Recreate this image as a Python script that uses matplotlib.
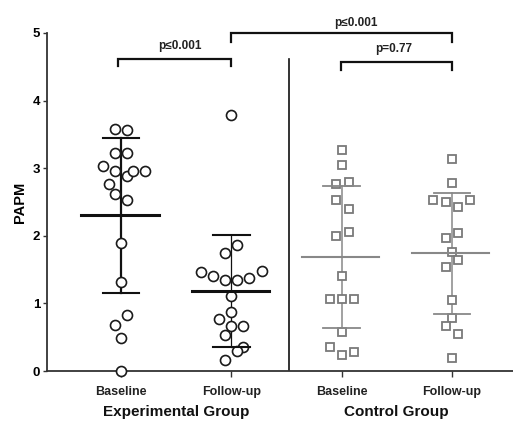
import matplotlib
matplotlib.use("Agg")
import matplotlib.pyplot as plt
import numpy as np

plt.rcParams['font.family'] = ['Liberation Sans', 'DejaVu Sans']

# ---- data ----
group_labels = ["Experimental Group", "Control Group"]
tick_labels = ["Baseline", "Follow-up", "Baseline", "Follow-up"]

exp_base = [3.58, 3.56, 3.23, 3.23, 3.03, 2.96, 2.88, 2.96, 2.96, 2.77, 2.62, 2.53,
            1.90, 1.31, 0.83, 0.68, 0.49, 0.00]
exp_base_jit = [-6, 6, -6, 6, -18, -6, 6, 12, 24, -12, -6, 6, 0, 0, 6, -6, 0, 0]

exp_follow = [3.79, 1.86, 1.75, 1.47, 1.40, 1.35, 1.35, 1.38, 1.48, 1.11, 0.87,
              0.77, 0.66, 0.67, 0.53, 0.36, 0.29, 0.16]
exp_follow_jit = [0, 6, -6, -30, -18, -6, 6, 18, 31, 0, 0, -12, 0, 12, -6, 12, 6, -6]

ctl_base = [3.27, 3.05, 2.77, 2.80, 2.53, 2.40, 2.00, 2.06, 1.40, 1.07, 1.07, 1.07,
            0.57, 0.35, 0.24, 0.28]
ctl_base_jit = [0, 0, -6, 7, -6, 7, -6, 7, 0, -12, 0, 12, 0, -12, 0, 12]

ctl_follow = [3.14, 2.78, 2.53, 2.50, 2.43, 2.53, 1.97, 2.04, 1.76, 1.64, 1.54,
              1.05, 0.78, 0.66, 0.54, 0.19]
ctl_follow_jit = [0, 0, -19, -6, 6, 18, -6, 6, 0, 6, -6, 0, 0, -6, 6, 0]

means = [2.31, 1.19, 1.68, 1.75]
sd_upper = [3.45, 2.01, 2.73, 2.64]
sd_lower = [1.16, 0.36, 0.63, 0.85]

p_labels = ["p≤0.001", "p≤0.001", "p=0.77"]

# ---- figure ----
fig = plt.figure(figsize=(5.13, 4.22), dpi=100)
ax = fig.add_axes([47/513, 51/422, 1 - 47/513, 338/422])
ax.set_xlim(0.327, 4.555)
ax.set_ylim(0, 5)

PX = 110.0  # pixels per x unit (for jitter)

series = [exp_base, exp_follow, ctl_base, ctl_follow]
jits = [exp_base_jit, exp_follow_jit, ctl_base_jit, ctl_follow_jit]
for i, (vals, jit) in enumerate(zip(series, jits)):
    xpos = i + 1
    xs = xpos + np.array(jit) / PX
    if i < 2:
        ax.plot(xs, vals, 'o', ms=7.2, mfc='white', mec='#1a1a1a', mew=1.2,
                zorder=3, clip_on=False)
    else:
        ax.plot(xs, vals, 's', ms=6.3, mfc='white', mec='#7a7a7a', mew=1.3,
                zorder=3, clip_on=False)

# mean and SD lines
for i in range(4):
    xpos = i + 1
    if i < 2:
        col = '#111111'
        lw_m, lw_s, lw_v = 2.2, 1.5, (1.6 if i == 0 else 0.9)
    else:
        col = '#888888'
        lw_m, lw_s, lw_v = 1.5, 1.3, 1.1
    ax.plot([xpos, xpos], [sd_lower[i], sd_upper[i]], color=col, lw=lw_v, zorder=2)
    ax.plot([xpos - 0.36, xpos + 0.34], [means[i], means[i]], color=col, lw=lw_m, zorder=4)
    for v in (sd_lower[i], sd_upper[i]):
        ax.plot([xpos - 0.165, xpos + 0.165], [v, v], color=col, lw=lw_s, zorder=4)

# divider
ax.plot([2.52, 2.52], [0, 4.62], color='#111111', lw=1.2)

# significance brackets
def bracket(x1, x2, y, ytip, label, lx, ly):
    ax.plot([x1, x1, x2, x2], [ytip, y, y, ytip], color='#111111', lw=1.6,
            clip_on=False, solid_joinstyle='miter')
    ax.text(lx, ly, label, ha='center', va='center', fontsize=8.5,
            fontweight='bold', color='#222222', clip_on=False)

bracket(0.975, 2.0, 4.62, 4.51, p_labels[0], 1.53, 4.81)
bracket(2.0, 4.0, 5.0, 4.87, p_labels[1], 3.13, 5.15)
bracket(2.99, 4.0, 4.57, 4.45, p_labels[2], 3.47, 4.76)

# axes styling
for s in ['top', 'right']:
    ax.spines[s].set_visible(False)
ax.spines['left'].set_color('#333333')
ax.spines['bottom'].set_color('#333333')
ax.spines['left'].set_linewidth(1.3)
ax.spines['bottom'].set_linewidth(1.3)

ax.set_yticks([0, 1, 2, 3, 4, 5])
ax.set_yticklabels(['0', '1', '2', '3', '4', '5'], fontsize=9.5, fontweight='bold')
ax.tick_params(axis='y', length=3, width=1.0, color='#333333', pad=2)
ax.set_xticks([1, 2, 3, 4])
ax.set_xticklabels(tick_labels, fontsize=9, fontweight='bold', color='#222222')
ax.tick_params(axis='x', length=4, width=1.0, color='#333333', pad=7)
ax.set_ylabel("PAPM", fontsize=10.5, fontweight='bold', labelpad=4)

for xg, lab in zip([1.5, 3.5], group_labels):
    ax.text(xg, -0.12, lab, transform=ax.get_xaxis_transform(), ha='center',
            va='center', fontsize=11, fontweight='bold', color='#111111')

fig.savefig("out.png", dpi=100)
